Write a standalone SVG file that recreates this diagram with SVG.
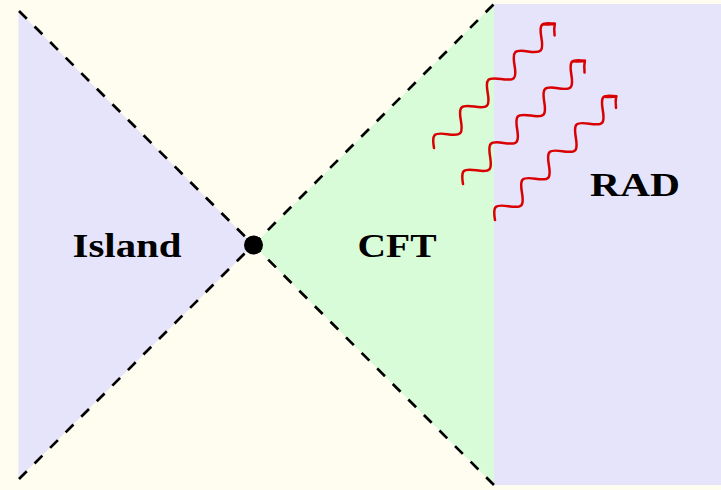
<svg xmlns="http://www.w3.org/2000/svg" xmlns:xlink="http://www.w3.org/1999/xlink" width="721" height="490" viewBox="0 0 721 490">
  <style>
    .bg { fill: #fffdf0; }
    .lav { fill: #e6e4fa; }
    .grn { fill: #d9fcd8; }
    .dash { stroke: #000; stroke-width: 2.7; stroke-dasharray: 11 11; fill: none; }
    .lbl { font-family: "Liberation Serif", "Times New Roman", serif; font-weight: bold; font-size: 33px; fill: #000; text-anchor: middle; }
    .wave { stroke: #d80000; stroke-width: 2.5; fill: none; stroke-linejoin: round; stroke-linecap: round; }
  </style>
  <defs>
    <g id="snake" class="wave">
      <path d="M0,0 C8.16,-11.3 11.09,-11.3 19.25,0 S30.34,11.3 38.5,0 S49.59,-11.3 57.75,0 S68.84,11.3 77,0 S88.09,-11.3 96.25,0 S107.34,11.3 115.5,0 S126.59,-11.3 134.75,0 S145.84,11.3 154,0 S165.09,-11.3 173.25,0"/>
      <path d="M-8.5,-8 Q-4,-2.5 0,0 Q-4,2.5 -8.5,8" transform="translate(173.25,0)"/>
    </g>
  </defs>
  <rect class="bg" x="0" y="0" width="721" height="490"/>
  <g id="island">
    <polygon class="lav" points="18.5,11 253.5,245 18.5,479"/>
    <text class="lbl" x="127" y="256.5" textLength="109" lengthAdjust="spacingAndGlyphs">Island</text>
  </g>
  <g id="cft">
    <polygon class="grn" points="253.5,245 494,4 494,485"/>
    <text class="lbl" x="397" y="256.5" textLength="79" lengthAdjust="spacingAndGlyphs">CFT</text>
  </g>
  <g id="rad">
    <rect class="lav" x="494" y="4" width="227" height="481"/>
    <text class="lbl" x="635" y="196" textLength="90" lengthAdjust="spacingAndGlyphs">RAD</text>
  </g>
  <g id="connectors">
    <line class="dash" x1="19" y1="11" x2="494" y2="485"/>
    <line class="dash" x1="19" y1="479" x2="494" y2="4"/>
  </g>
  <g id="center">
    <circle cx="253.5" cy="245" r="9.5" fill="#000"/>
  </g>
  <g id="radiation">
    <use xlink:href="#snake" transform="translate(434,148) rotate(-45.8)"/>
    <use xlink:href="#snake" transform="translate(463,184) rotate(-45.3)"/>
    <use xlink:href="#snake" transform="translate(495,220) rotate(-45.6)"/>
  </g>
</svg>
